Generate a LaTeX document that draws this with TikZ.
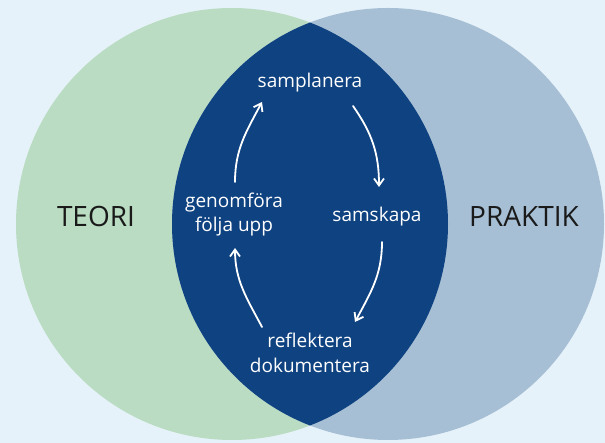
\documentclass[tikz,border=0pt]{standalone}
\usepackage{fontspec}
\setmainfont{Open Sans}
\usetikzlibrary{arrows.meta}
\definecolor{bgc}{HTML}{E6F2F9}
\definecolor{teoric}{HTML}{B9DCC2}
\definecolor{praktikc}{HTML}{A6BFD5}
\definecolor{lensc}{HTML}{0F4280}
\definecolor{txtc}{HTML}{1A1A1A}
\tikzset{
  outerlabel/.style={font=\fontsize{28}{30}\selectfont, text=txtc, anchor=base, inner sep=0pt},
  innerlabel/.style={font=\fontsize{19}{21}\selectfont, text=white, anchor=base, inner sep=0pt},
  cyclearrow/.style={draw=white, line width=1.8pt, line cap=round, -{Straight Barb[length=7pt,width=10pt,line width=1.8pt]}}
}
\begin{document}
\begin{tikzpicture}[x=1pt,y=1pt]
\useasboundingbox (0,0) rectangle (605,443);
\fill[bgc] (0,0) rectangle (605,443);
\fill[teoric] (232,219) circle (216);
\fill[praktikc] (388,219) circle (216);
\begin{scope}
  \clip (232,219) circle (216);
  \fill[lensc] (388,219) circle (216);
\end{scope}
\node[outerlabel] (teori) at (96,216) {TEORI};
\node[outerlabel] (praktik) at (524,216) {PRAKTIK};
\node[innerlabel] (plan) at (310,355) {samplanera};
\node[innerlabel] (skapa) at (377,221) {samskapa};
\node[innerlabel] (genom) at (234,235) {genomföra};
\node[innerlabel] (folja) at (234,211) {följa upp};
\node[innerlabel] (refl) at (310,95) {reflektera};
\node[innerlabel] (doku) at (310,70) {dokumentera};
\coordinate (a1s) at (353,337);
\coordinate (a1e) at (379,256);
\coordinate (a2s) at (382,201);
\coordinate (a2e) at (355,121);
\coordinate (a3s) at (262,116);
\coordinate (a3e) at (235,195);
\coordinate (a4s) at (235,261);
\coordinate (a4e) at (262,341);
\draw[cyclearrow] (a1s) to[out=-55,in=90] (a1e);
\draw[cyclearrow] (a2s) to[out=-90,in=62] (a2e);
\draw[cyclearrow] (a3s) to[out=118,in=-90] (a3e);
\draw[cyclearrow] (a4s) to[out=90,in=-118] (a4e);
\end{tikzpicture}
\end{document}
